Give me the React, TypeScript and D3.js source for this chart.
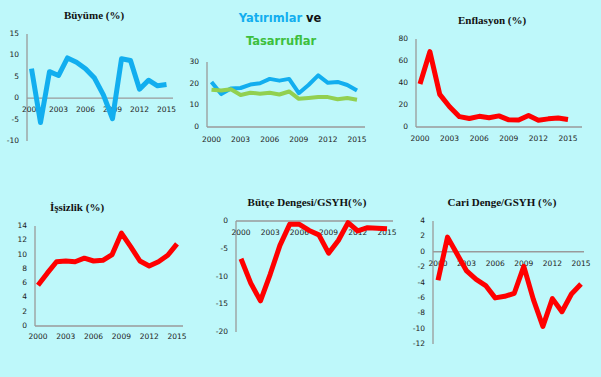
import React from "react";
import * as d3 from "d3";

const years = [2000, 2001, 2002, 2003, 2004, 2005, 2006, 2007, 2008, 2009, 2010, 2011, 2012, 2013, 2014, 2015];
const yearTicks = [2000, 2003, 2006, 2009, 2012, 2015];

const buyume = [6.9, -5.7, 6.2, 5.3, 9.4, 8.4, 6.9, 4.7, 0.7, -4.8, 9.2, 8.8, 2.1, 4.2, 2.9, 3.2];
const yatirim = [20.8, 15.2, 17.8, 18.0, 19.6, 20.2, 22.2, 21.4, 22.2, 15.6, 19.4, 23.8, 20.4, 20.8, 19.4, 16.8];
const tasarruf = [17.2, 16.8, 17.4, 14.8, 15.8, 15.4, 15.8, 15.0, 16.4, 13.0, 13.4, 13.8, 13.8, 12.8, 13.4, 12.6];
const enflasyon = [39, 68.5, 29.7, 18.4, 9.4, 7.7, 9.7, 8.4, 10.1, 6.5, 6.4, 10.4, 6.2, 7.4, 8.2, 6.8];
const issizlik = [5.7, 7.4, 9.0, 9.1, 9.0, 9.5, 9.1, 9.2, 10.0, 13.0, 11.1, 9.1, 8.4, 9.0, 9.9, 11.5];
const butce = [-6.8, -11.2, -14.4, -9.6, -4.4, -0.6, -0.6, -1.7, -2.5, -5.8, -3.5, -0.3, -1.8, -1.2, -1.3, -1.4];
const cari = [-3.7, 1.9, -0.3, -2.5, -3.6, -4.4, -6.0, -5.8, -5.4, -1.9, -6.2, -9.7, -6.1, -7.8, -5.5, -4.2];

const tickBuyume = [-10, -5, 0, 5, 10, 15];
const tickYatirim = [0, 10, 20, 30];
const tickEnflasyon = [0, 20, 40, 60, 80];
const tickIssizlik = [0, 2, 4, 6, 8, 10, 12, 14];
const tickButce = [-20, -15, -10, -5, 0];
const tickCari = [-12, -10, -8, -6, -4, -2, 0, 2, 4];

const BG = "#BEF8FA";
const BLUE = "#12AEEF";
const GREEN = "#92D050";
const RED = "#FF0000";
const AXIS = "#9A9A9A";
const TICKFONT = "DejaVu Sans, Verdana, sans-serif";

type Series = { values: number[]; color: string; width: number };
type PanelProps = {
  xRange: [number, number];
  yDomain: [number, number];
  yRange: [number, number];
  yTicks: number[];
  axisX: number;
  hEnd: number;
  xLabelY: number;
  series: Series[];
};

function Panel(p: PanelProps) {
  const x = d3.scaleLinear().domain([2000, 2015]).range(p.xRange);
  const y = d3.scaleLinear().domain(p.yDomain).range(p.yRange);
  const zero = p.yDomain[0] < 0 && p.yDomain[1] >= 0 ? 0 : p.yDomain[0];
  const line = d3
    .line<number>()
    .x((_, i) => x(years[i]))
    .y((d) => y(d));
  return (
    <g>
      <line x1={p.axisX} x2={p.axisX} y1={y(p.yDomain[0])} y2={y(p.yDomain[1])} stroke={AXIS} strokeWidth={1.3} />
      <line x1={p.axisX} x2={p.hEnd} y1={y(zero)} y2={y(zero)} stroke={AXIS} strokeWidth={1.3} />
      {p.yTicks.map((t) => (
        <text
          key={"y" + t}
          x={p.axisX - 8}
          y={y(t)}
          textAnchor="end"
          dominantBaseline="middle"
          fontFamily={TICKFONT}
          fontSize={7.5}
          fill="#222"
        >
          {t}
        </text>
      ))}
      {yearTicks.map((t) => (
        <text
          key={"x" + t}
          x={x(t)}
          y={p.xLabelY}
          textAnchor="middle"
          dominantBaseline="middle"
          fontFamily={TICKFONT}
          fontSize={7.5}
          fill="#222"
        >
          {t}
        </text>
      ))}
      {p.series.map((s, i) => (
        <path
          key={i}
          d={line(s.values) || ""}
          fill="none"
          stroke={s.color}
          strokeWidth={s.width}
          strokeLinejoin="round"
        />
      ))}
    </g>
  );
}

const serifTitle = {
  fontFamily: "Liberation Serif, Times New Roman, serif",
  fontWeight: "bold" as const,
  fontSize: 11,
  fill: "#111",
  textAnchor: "middle" as const,
};

export default function App() {
  return (
    <svg
      width={601}
      height={377}
      style={{ position: "fixed", left: 0, top: 0, display: "block" }}
    >
      <rect width={601} height={377} fill={BG} />

      <text x={94} y={19} {...serifTitle}>Büyüme (%)</text>
      <Panel
        xRange={[31.5, 166.5]}
        yDomain={[-10, 15]}
        yRange={[141, 34]}
        yTicks={tickBuyume}
        axisX={27}
        hEnd={173}
        xLabelY={110}
        series={[{ values: buyume, color: BLUE, width: 5 }]}
      />

      <text x={280} y={22} textAnchor="middle" fontFamily="DejaVu Sans, Verdana, sans-serif" fontWeight="bold" fontSize={11.5}>
        <tspan fill={BLUE}>Yatırımlar </tspan>
        <tspan fill="#111">ve</tspan>
      </text>
      <text x={281} y={45} textAnchor="middle" fontFamily="DejaVu Sans, Verdana, sans-serif" fontWeight="bold" fontSize={11.5} fill="#3DBF3D">
        Tasarruflar
      </text>
      <Panel
        xRange={[211.5, 357]}
        yDomain={[0, 30]}
        yRange={[127, 62]}
        yTicks={tickYatirim}
        axisX={207}
        hEnd={365}
        xLabelY={140}
        series={[
          { values: yatirim, color: BLUE, width: 4 },
          { values: tasarruf, color: GREEN, width: 4 },
        ]}
      />

      <text x={492} y={24} {...serifTitle}>Enflasyon (%)</text>
      <Panel
        xRange={[420, 568]}
        yDomain={[0, 80]}
        yRange={[127, 39]}
        yTicks={tickEnflasyon}
        axisX={416}
        hEnd={582}
        xLabelY={139}
        series={[{ values: enflasyon, color: RED, width: 5 }]}
      />

      <text x={77} y={211} {...serifTitle}>İşsizlik (%)</text>
      <Panel
        xRange={[38, 177]}
        yDomain={[0, 14]}
        yRange={[326, 226]}
        yTicks={tickIssizlik}
        axisX={35}
        hEnd={183}
        xLabelY={337}
        series={[{ values: issizlik, color: RED, width: 5 }]}
      />

      <text x={307} y={206} {...serifTitle}>Bütçe Dengesi/GSYH(%)</text>
      <Panel
        xRange={[241, 387]}
        yDomain={[-20, 0]}
        yRange={[332, 221]}
        yTicks={tickButce}
        axisX={236}
        hEnd={393}
        xLabelY={233}
        series={[{ values: butce, color: RED, width: 5 }]}
      />

      <text x={502} y={206} {...serifTitle}>Cari Denge/GSYH (%)</text>
      <Panel
        xRange={[438, 581]}
        yDomain={[-12, 4]}
        yRange={[344, 221]}
        yTicks={tickCari}
        axisX={433}
        hEnd={584}
        xLabelY={264}
        series={[{ values: cari, color: RED, width: 5 }]}
      />
    </svg>
  );
}
